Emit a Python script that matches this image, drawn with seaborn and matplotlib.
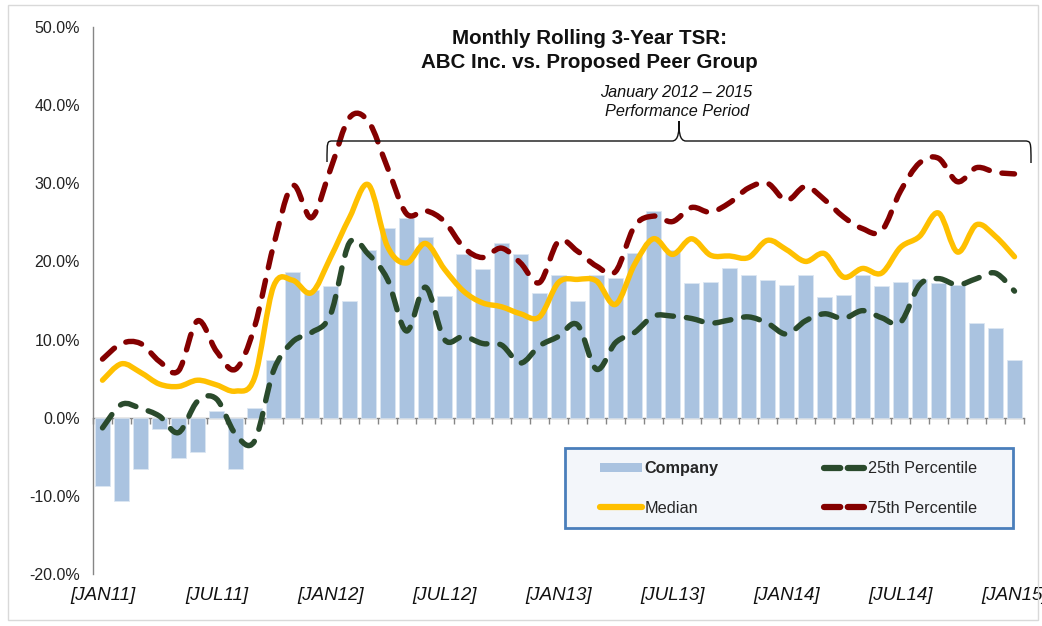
import numpy as np
import pandas as pd
import matplotlib
matplotlib.use("Agg")
import matplotlib.pyplot as plt
import seaborn as sns
from matplotlib.path import Path
from matplotlib.patches import PathPatch, Rectangle, Patch
from matplotlib.lines import Line2D

# ---------------- data (percent) ----------------
months = [d.strftime("%b%y").upper() for d in pd.date_range("2011-01-01", periods=49, freq="MS")]
tick_positions = [0, 6, 12, 18, 24, 30, 36, 42, 48]
tick_labels = ["[JAN11]", "[JUL11]", "[JAN12]", "[JUL12]", "[JAN13]",
               "[JUL13]", "[JAN14]", "[JUL14]", "[JAN15]"]

company = [-8.8, -10.7, -6.6, -1.4, -5.1, -4.4, 0.9, -6.5, 1.2, 7.4,
           18.7, 16.3, 16.9, 15.0, 21.5, 24.3, 25.5, 23.1, 15.6, 21.0,
           19.0, 22.3, 20.9, 16.0, 18.2, 15.0, 18.2, 17.9, 21.1, 26.5,
           21.5, 17.2, 17.4, 19.2, 18.2, 17.6, 17.0, 18.3, 15.5, 15.7,
           18.2, 16.8, 17.4, 17.8, 17.3, 17.0, 12.1, 11.5, 7.4]

median = [4.8, 6.9, 5.8, 4.3, 4.0, 4.8, 4.2, 3.4, 5.1, 16.8,
          17.6, 16.0, 20.5, 25.6, 29.8, 21.9, 19.8, 22.3, 19.0, 16.2,
          14.7, 14.2, 13.3, 12.9, 17.3, 17.7, 17.5, 14.5, 19.6, 22.9,
          20.9, 22.9, 20.8, 20.7, 20.5, 22.7, 21.5, 20.0, 21.0, 18.0,
          19.1, 18.5, 21.8, 23.2, 26.2, 21.2, 24.7, 23.2, 20.6]

pct25 = [-1.3, 1.7, 1.2, 0.2, -1.9, 2.1, 2.4, -2.1, -3.0, 6.0,
         9.7, 10.9, 13.2, 22.4, 20.9, 17.7, 11.1, 16.7, 10.0, 10.4,
         9.5, 9.3, 7.0, 9.2, 10.4, 11.9, 6.2, 9.6, 10.9, 13.0,
         13.0, 12.7, 12.1, 12.5, 12.9, 12.1, 10.7, 12.4, 13.3, 12.7,
         13.7, 12.8, 12.2, 17.0, 17.8, 17.0, 17.8, 18.5, 16.2]

pct75 = [7.5, 9.5, 9.5, 7.2, 6.0, 12.4, 8.5, 6.2, 11.6, 22.0,
         29.7, 25.6, 31.8, 38.4, 37.9, 32.0, 26.1, 26.5, 25.1, 21.8,
         20.5, 21.7, 19.8, 17.3, 22.6, 21.3, 19.4, 18.7, 24.5, 25.8,
         25.1, 26.9, 26.3, 27.5, 29.4, 30.0, 27.8, 29.6, 27.9, 25.7,
         24.2, 23.9, 29.0, 32.6, 33.2, 30.2, 32.0, 31.4, 31.2]

# ---------------- style ----------------
sns.set_style("white")
plt.rcParams["font.family"] = ["Liberation Sans", "DejaVu Sans"]

BAR_C = "#AAC3E0"
MED_C = "#FFC000"
P25_C = "#2A4A2C"
P75_C = "#840000"
AX_C = "#868686"

W, H = 1042, 626
fig = plt.figure(figsize=(W / 100, H / 100), dpi=100)
fig.patch.set_facecolor("white")
ax = fig.add_axes([93 / W, 1 - 574 / H, (1024 - 93) / W, (574 - 27) / H])

df = pd.DataFrame({"month": months, "tsr": company})
sns.barplot(data=df, x="month", y="tsr", order=months, color=BAR_C,
            width=0.82, saturation=1, edgecolor="#DCE6F2", linewidth=0.6,
            ax=ax, zorder=2)


def smooth_path(xs, ys, t=1.0):
    pts = np.column_stack([xs, ys]).astype(float)
    n = len(pts)
    verts = [pts[0]]
    codes = [Path.MOVETO]
    for i in range(n - 1):
        p0 = pts[i - 1] if i > 0 else pts[i]
        p1 = pts[i]
        p2 = pts[i + 1]
        p3 = pts[i + 2] if i + 2 < n else pts[i + 1]
        c1 = p1 + (p2 - p0) / 6.0 * t
        c2 = p2 - (p3 - p1) / 6.0 * t
        verts += [c1, c2, p2]
        codes += [Path.CURVE4] * 3
    return Path(verts, codes)


x = np.arange(len(months))
for vals, col, dashed, z in [(median, MED_C, False, 4),
                             (pct25, P25_C, True, 5),
                             (pct75, P75_C, True, 6)]:
    patch = PathPatch(smooth_path(x, vals), fill=False, edgecolor=col,
                      lw=3.9, zorder=z, capstyle="round", joinstyle="round")
    if dashed:
        patch.set_linestyle((0, (3.0, 2.4)))
    ax.add_patch(patch)

ax.set_xlim(-0.5, len(months) - 0.5)
ax.set_ylim(-20, 50)
ax.set_yticks(np.arange(-20, 51, 10))
ax.set_yticklabels([f"{v:.1f}%" for v in np.arange(-20, 51, 10)], fontsize=11.5, color="#222222")
ax.set_xticks(tick_positions)
ax.set_xticklabels(tick_labels, fontsize=13.5, style="italic", color="#111111")
ax.tick_params(axis="x", length=0, pad=9)
ax.tick_params(axis="y", length=4.5, width=1, color=AX_C, direction="out", pad=5)
ax.set_xlabel("")
ax.set_ylabel("")
for s in ["top", "right", "bottom"]:
    ax.spines[s].set_visible(False)
ax.spines["left"].set_color(AX_C)
ax.spines["left"].set_linewidth(1)

# zero axis with category boundary ticks
sec = ax.secondary_xaxis(20 / 70)
sec.set_xticks(np.arange(-0.5, len(months), 1))
sec.set_xticklabels([])
sec.tick_params(axis="x", length=4, width=1, color=AX_C, direction="out")
sec.spines["bottom"].set_color(AX_C)
sec.spines["bottom"].set_linewidth(1)

# titles
fig.text(589 / W, 1 - 38 / H, "Monthly Rolling 3-Year TSR:", ha="center", va="center",
         fontsize=14.8, fontweight="bold", color="#111111")
fig.text(589 / W, 1 - 62 / H, "ABC Inc. vs. Proposed Peer Group", ha="center", va="center",
         fontsize=14.8, fontweight="bold", color="#111111")
fig.text(676 / W, 1 - 92 / H, "January 2012 \u2013 2015", ha="center", va="center",
         fontsize=11.7, style="italic", color="#111111")
fig.text(677 / W, 1 - 111 / H, "Performance Period", ha="center", va="center",
         fontsize=11.7, style="italic", color="#111111")

# curly brace (figure pixel coords -> fraction)
def fx(px):
    return px / W

def fy(py):
    return 1 - py / H

bv = [(fx(327), fy(162)), (fx(327), fy(141)), (fx(327), fy(141)), (fx(333), fy(141)),
      (fx(672), fy(141)),
      (fx(679), fy(141)), (fx(679), fy(130)), (fx(679), fy(121)),
      (fx(679), fy(130)), (fx(679), fy(141)), (fx(686), fy(141)),
      (fx(1024), fy(141)),
      (fx(1031), fy(141)), (fx(1031), fy(141)), (fx(1031), fy(163))]
bc = [Path.MOVETO, Path.CURVE4, Path.CURVE4, Path.CURVE4,
      Path.LINETO,
      Path.CURVE4, Path.CURVE4, Path.CURVE4,
      Path.CURVE4, Path.CURVE4, Path.CURVE4,
      Path.LINETO,
      Path.CURVE4, Path.CURVE4, Path.CURVE4]
fig.patches.append(PathPatch(Path(bv, bc), fill=False, edgecolor="#111111", lw=1.0,
                             transform=fig.transFigure, zorder=10))

# legend box
fig.patches.append(Rectangle((fx(565), fy(528)), (1013 - 565) / W, (528 - 448) / H,
                             transform=fig.transFigure, facecolor="#F3F6FA",
                             edgecolor="#4A7EBB", lw=2.0, zorder=8))
handles = [Patch(facecolor=BAR_C, edgecolor="none"),
           Line2D([], [], color=MED_C, lw=4.5, solid_capstyle="round"),
           Line2D([], [], color=P25_C, lw=4.5, dashes=(2.6, 1.2), dash_capstyle="round"),
           Line2D([], [], color=P75_C, lw=4.5, dashes=(2.6, 1.2), dash_capstyle="round")]
labels = ["Company", "Median", "25th Percentile", "75th Percentile"]
leg = fig.legend(handles, labels, ncol=2, frameon=False, fontsize=11.7,
                 loc="center left", bbox_to_anchor=(fx(600), fy(488.5)),
                 handlelength=2.6, handleheight=0.55, handletextpad=0.15,
                 labelspacing=1.5, columnspacing=6.45, borderpad=0, borderaxespad=0)
leg.set_zorder(9)
leg.get_texts()[0].set_fontweight("bold")

# outer light frame
fig.patches.append(Rectangle((fx(8), fy(620)), (1038 - 8) / W, (620 - 5) / H,
                             transform=fig.transFigure, facecolor="none",
                             edgecolor="#D9D9D9", lw=1.0, zorder=0))

fig.savefig("out.png", dpi=100, facecolor="white")
